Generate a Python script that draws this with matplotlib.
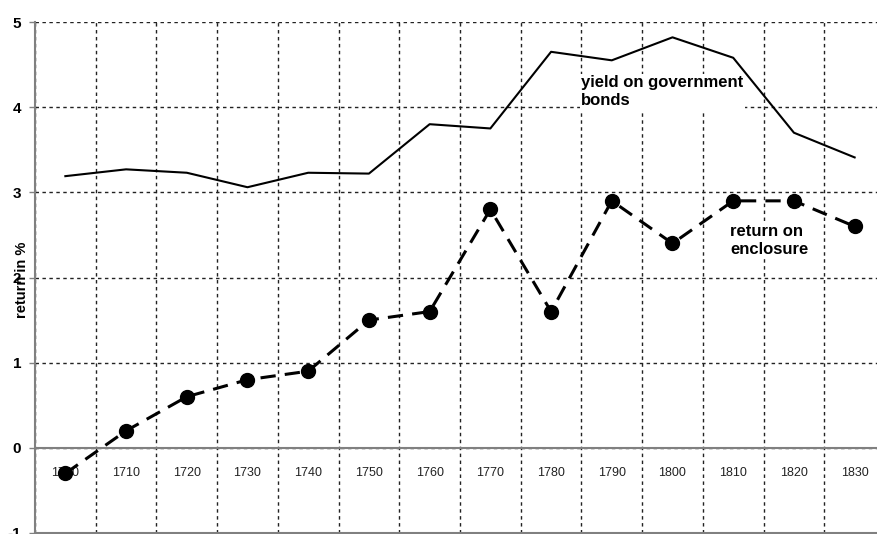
import numpy as np
import matplotlib
matplotlib.use("Agg")
import matplotlib.pyplot as plt

plt.rcParams['font.family'] = ['Liberation Sans', 'DejaVu Sans']

# data
years = ["1700", "1710", "1720", "1730", "1740", "1750", "1760",
         "1770", "1780", "1790", "1800", "1810", "1820", "1830"]
bonds = [3.19, 3.27, 3.23, 3.06, 3.23, 3.22, 3.80,
         3.75, 4.65, 4.55, 4.82, 4.58, 3.70, 3.41]
enclosure = [-0.3, 0.2, 0.6, 0.8, 0.9, 1.5, 1.6,
             2.8, 1.6, 2.9, 2.4, 2.9, 2.9, 2.6]
yticks = [-1, 0, 1, 2, 3, 4, 5]

x = np.arange(len(years))

fig = plt.figure(figsize=(8.78, 5.34), dpi=100)
ax = fig.add_axes([35/878, 1/534, 850/878, 511/534])

ax.set_xlim(-0.5, len(years) - 0.5)
ax.set_ylim(-1, 5)

# grid
ax.set_xticks(np.arange(-0.5, len(years), 1), minor=True)
ax.set_xticks([])
ax.set_yticks(yticks)
ax.set_yticklabels([str(v) for v in yticks], fontsize=11, fontweight='bold')
ax.grid(True, which='minor', axis='x', color='#222222', linestyle=(0, (2.5, 2.5)), linewidth=1)
ax.grid(True, which='major', axis='y', color='#222222', linestyle=(0, (2.5, 2.5)), linewidth=1)
ax.tick_params(axis='y', length=4, width=1, color='#808080', pad=6)
ax.tick_params(axis='x', which='minor', length=0)
ax.axhline(0, color='#808080', linewidth=1.5, zorder=2)

for s in ['top', 'right']:
    ax.spines[s].set_visible(False)
ax.spines['left'].set_color('#808080')
ax.spines['left'].set_linewidth(1.5)
ax.spines['bottom'].set_color('#808080')
ax.spines['bottom'].set_linewidth(1.5)

# category labels sit inside the plot, under the zero line
for i, lab in enumerate(years):
    ax.text(i, -0.3, lab, ha='center', va='center', fontsize=9, color='#222222', zorder=1)

ax.plot(x, bonds, color='black', linewidth=1.5, zorder=3)
ax.plot(x, enclosure, color='black', linewidth=2.2, linestyle=(0, (5, 3)),
        marker='o', markersize=10, zorder=3)

ax.text(8.5, 4.18, "yield on government\nbonds", fontsize=12, fontweight='bold',
        ha='left', va='center', linespacing=1.25, zorder=4,
        bbox=dict(facecolor='white', edgecolor='none', pad=1))
ax.text(10.95, 2.44, "return on\nenclosure", fontsize=12, fontweight='bold',
        ha='left', va='center', linespacing=1.25, zorder=4,
        bbox=dict(facecolor='white', edgecolor='none', pad=1))

fig.text(22/878, 1 - 280/534, "return in %", rotation=90, ha='center', va='center',
         fontsize=10.5, fontweight='bold')

fig.savefig("out.png", dpi=100)
